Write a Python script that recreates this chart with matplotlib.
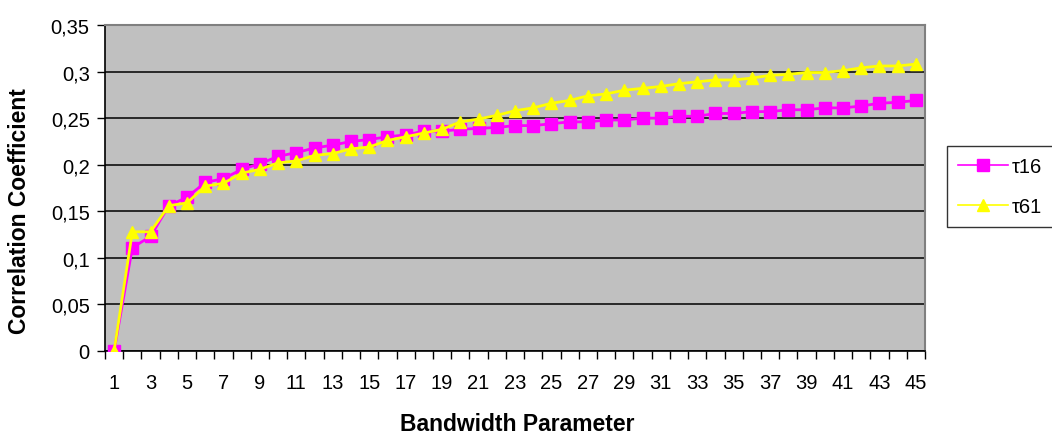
import matplotlib
matplotlib.use("Agg")
import matplotlib.pyplot as plt
from matplotlib.ticker import FuncFormatter, FixedLocator

plt.rcParams['font.family'] = ['Liberation Sans', 'DejaVu Sans']

bandwidth = list(range(1, 46))
tau16 = [0.000, 0.111, 0.123, 0.156, 0.165, 0.181, 0.185, 0.195, 0.201, 0.209,
         0.213, 0.218, 0.221, 0.225, 0.227, 0.230, 0.232, 0.236, 0.236, 0.238,
         0.239, 0.240, 0.242, 0.242, 0.244, 0.246, 0.246, 0.248, 0.248, 0.250,
         0.250, 0.252, 0.252, 0.255, 0.255, 0.257, 0.257, 0.259, 0.259, 0.261,
         0.261, 0.263, 0.266, 0.267, 0.269]
tau61 = [0.000, 0.128, 0.128, 0.156, 0.159, 0.177, 0.180, 0.191, 0.195, 0.202,
         0.204, 0.210, 0.212, 0.217, 0.219, 0.226, 0.230, 0.234, 0.238, 0.246,
         0.249, 0.253, 0.258, 0.261, 0.266, 0.269, 0.274, 0.276, 0.280, 0.282,
         0.284, 0.287, 0.289, 0.291, 0.291, 0.293, 0.296, 0.297, 0.299, 0.299,
         0.301, 0.304, 0.306, 0.306, 0.308]
series_names = ["τ16", "τ61"]
y_ticks = [0, 0.05, 0.10, 0.15, 0.20, 0.25, 0.30, 0.35]
x_tick_labels = [str(v) for v in range(1, 46, 2)]

fig = plt.figure(figsize=(10.52, 4.35), dpi=100)
ax = fig.add_axes([105 / 1052, 1 - 352 / 435, 820 / 1052, 326 / 435])
ax.set_facecolor('#C0C0C0')

ax.plot(bandwidth, tau16, color='#FF00FF', lw=2.0, marker='s', ms=8,
        mec='#FF00FF', mfc='#FF00FF', label=series_names[0], zorder=3)
ax.plot(bandwidth, tau61, color='#FFFF00', lw=2.0, marker='^', ms=9,
        mec='#FFFF00', mfc='#FFFF00', label=series_names[1], zorder=4)

ax.set_xlim(0.5, 45.5)
ax.set_ylim(0, 0.35)

ax.set_yticks(y_ticks)
ax.yaxis.set_major_formatter(FuncFormatter(
    lambda v, p: ('%g' % round(v, 2)).replace('.', ',')))
ax.yaxis.grid(True, color='black', lw=1.1)
ax.set_axisbelow(True)

ax.set_xticks(list(range(1, 46, 2)))
ax.set_xticklabels(x_tick_labels)
ax.xaxis.set_minor_locator(FixedLocator([i + 0.5 for i in range(0, 46)]))
ax.tick_params(axis='x', which='major', length=0, pad=16, labelsize=14.5)
ax.tick_params(axis='x', which='minor', length=6, width=1, color='black',
               direction='out')
ax.tick_params(axis='y', which='major', length=6, width=1, color='black',
               direction='out', pad=5, labelsize=14.5)

for side in ('left', 'bottom'):
    ax.spines[side].set_color('black')
    ax.spines[side].set_linewidth(1.2)
for side in ('top', 'right'):
    ax.spines[side].set_color('#808080')
    ax.spines[side].set_linewidth(1.5)

fig.text(517 / 1052, 1 - 425 / 435, 'Bandwidth Parameter', ha='center',
         va='center', fontsize=16.5, fontweight='bold')
fig.text(20 / 1052, 1 - 211 / 435, 'Correlation Coefficient', ha='center',
         va='center', rotation=90, fontsize=16.5, fontweight='bold')

leg = fig.legend(loc='center left', bbox_to_anchor=(947 / 1052, 1 - 187.5 / 435),
                 frameon=True, fancybox=False, fontsize=14.5, handlelength=2.5,
                 handletextpad=0.15, borderpad=0.55, labelspacing=1.05,
                 borderaxespad=0)
leg.get_frame().set_edgecolor('black')
leg.get_frame().set_linewidth(1.0)
for line in leg.get_lines():
    line.set_linewidth(1.2)

fig.savefig('out.png', dpi=100, facecolor='white')
